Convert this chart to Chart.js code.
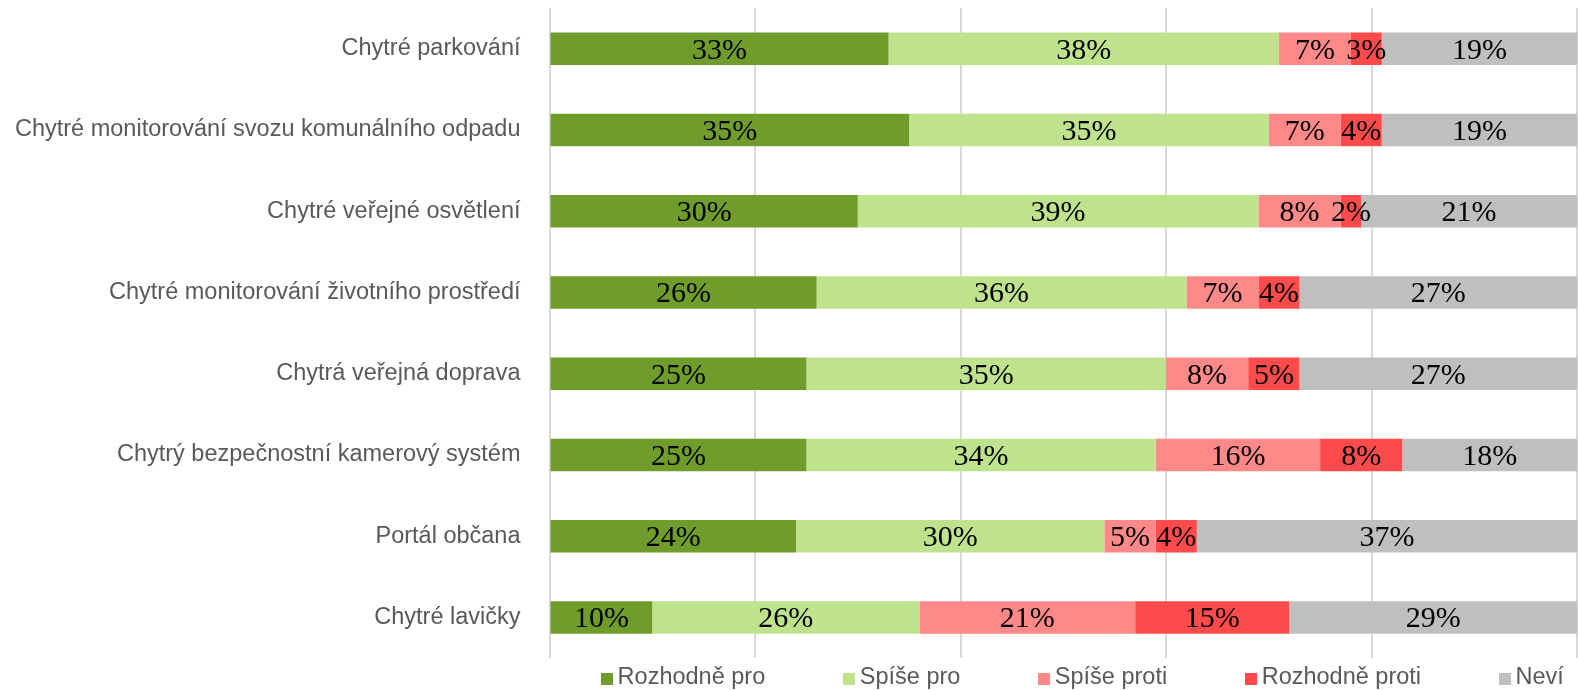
<!DOCTYPE html>
<html>
<head>
<meta charset="utf-8">
<script src="https://cdn.jsdelivr.net/npm/chart.js@4"></script>
<style>
  html, body { margin: 0; padding: 0; background: #ffffff; }
  canvas { display: block; }
</style>
</head>
<body>
<canvas id="c" width="1578" height="690"></canvas>
<script>
const categories = [
  'Chytré parkování',
  'Chytré monitorování svozu komunálního odpadu',
  'Chytré veřejné osvětlení',
  'Chytré monitorování životního prostředí',
  'Chytrá veřejná doprava',
  'Chytrý bezpečnostní kamerový systém',
  'Portál občana',
  'Chytré lavičky'
];
const seriesNames = ['Rozhodně pro', 'Spíše pro', 'Spíše proti', 'Rozhodně proti', 'Neví'];
const rozhodnePro   = [33, 35, 30, 26, 25, 25, 24, 10];
const spisePro      = [38, 35, 39, 36, 35, 34, 30, 26];
const spiseProti    = [7, 7, 8, 7, 8, 16, 5, 21];
const rozhodneProti = [3, 4, 2, 4, 5, 8, 4, 15];
const nevi          = [19, 19, 21, 27, 27, 18, 37, 29];
const seriesColors  = ['#709C2C', '#BFE28C', '#FF8888', '#FF4B4B', '#BFBFBF'];

const seriesValues = [rozhodnePro, spisePro, spiseProti, rozhodneProti, nevi];

const dataLabelsPlugin = {
  id: 'dataLabels',
  afterDatasetsDraw(chart) {
    const ctx = chart.ctx;
    const area = chart.chartArea;
    ctx.save();
    ctx.font = '30px "Liberation Serif", "DejaVu Serif", serif';
    ctx.fillStyle = '#000000';
    ctx.textAlign = 'center';
    ctx.textBaseline = 'middle';
    chart.data.datasets.forEach((ds, i) => {
      const meta = chart.getDatasetMeta(i);
      meta.data.forEach((el, j) => {
        const left = Math.min(el.x, el.base);
        const right = Math.min(Math.max(el.x, el.base), area.right);
        ctx.fillText(ds.data[j] + '%', (left + right) / 2, el.y + 2);
      });
    });
    ctx.restore();
  }
};

const customLegendPlugin = {
  id: 'customLegend',
  afterDraw(chart) {
    const ctx = chart.ctx;
    const area = chart.chartArea;
    const box = 12, gapText = 5, gapItem = 77.5;
    ctx.save();
    ctx.font = '23.5px "Liberation Sans", Arial, sans-serif';
    ctx.textBaseline = 'middle';
    ctx.textAlign = 'left';
    const items = chart.data.datasets.map(ds => ({
      text: ds.label, color: ds.backgroundColor,
      w: box + gapText + ctx.measureText(ds.label).width
    }));
    const total = items.reduce((s, it) => s + it.w, 0) + gapItem * (items.length - 1);
    const center = (area.left + area.right) / 2 + 19;
    let x = center - total / 2;
    const y = area.bottom + 21;
    items.forEach(it => {
      ctx.fillStyle = it.color;
      ctx.fillRect(Math.round(x), Math.round(y - box / 2), box, box);
      ctx.fillStyle = '#595959';
      ctx.fillText(it.text, x + box + gapText, y - 1);
      x += it.w + gapItem;
    });
    ctx.restore();
  }
};

new Chart(document.getElementById('c'), {
  type: 'bar',
  data: {
    labels: categories,
    datasets: seriesNames.map((name, i) => ({
      label: name,
      data: seriesValues[i],
      backgroundColor: seriesColors[i],
      borderWidth: 0,
      categoryPercentage: 1.0,
      barPercentage: 0.4
    }))
  },
  options: {
    indexAxis: 'y',
    responsive: false,
    devicePixelRatio: 1,
    animation: false,
    layout: { padding: { top: 8, right: 1, bottom: 32, left: 0 } },
    plugins: {
      legend: { display: false },
      tooltip: { enabled: false }
    },
    scales: {
      x: {
        stacked: true,
        min: 0,
        max: 100,
        ticks: { display: false, stepSize: 20 },
        grid: { color: '#D9D9D9', lineWidth: 2, drawTicks: false },
        border: { display: false },
        afterFit(scale) { scale.height = 0; scale.paddingLeft = 0; scale.paddingRight = 0; }
      },
      y: {
        stacked: true,
        grid: { display: false },
        border: { display: false },
        ticks: {
          color: '#595959',
          padding: 21,
          font: { family: '"Liberation Sans", Arial, sans-serif', size: 23.5 }
        },
        afterFit(scale) {
          scale.width = 549.5;
          scale.paddingTop = 0;
          scale.paddingBottom = 0;
        }
      }
    }
  },
  plugins: [dataLabelsPlugin, customLegendPlugin]
});
</script>
</body>
</html>
